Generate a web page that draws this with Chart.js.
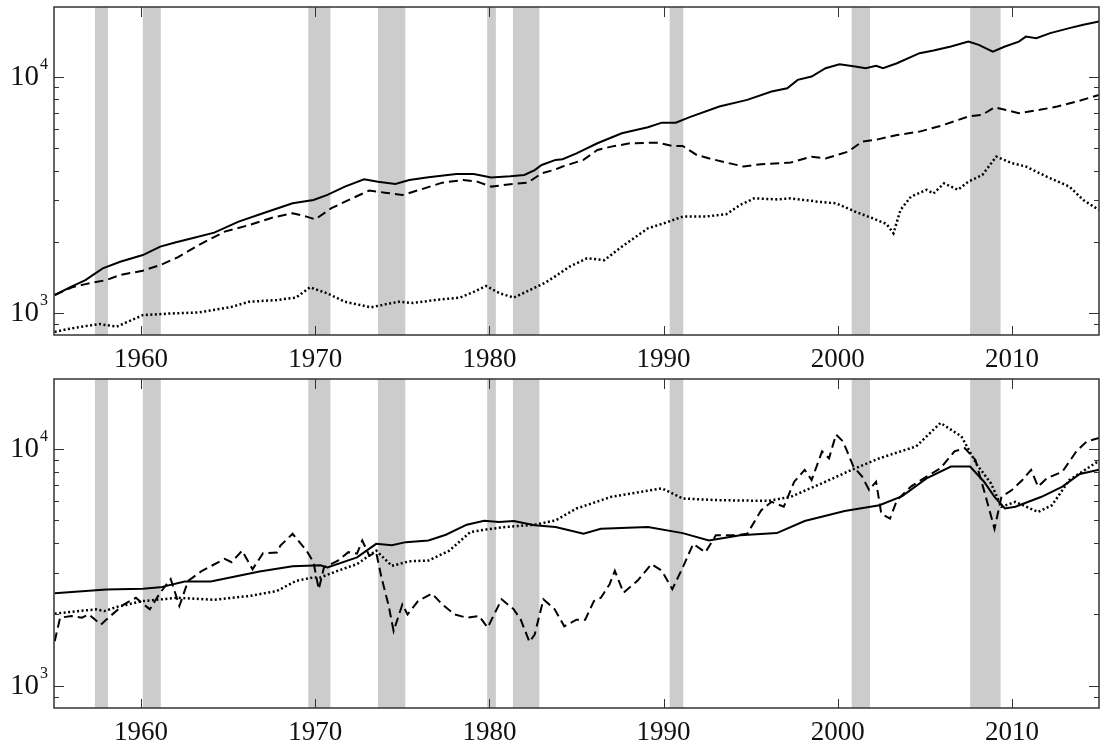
<!DOCTYPE html>
<html>
<head>
<meta charset="utf-8">
<script src="https://cdn.jsdelivr.net/npm/chart.js@4/dist/chart.umd.min.js"></script>
<style>
  html, body { margin: 0; padding: 0; background: #fff; }
  canvas { display: block; }
</style>
</head>
<body>
<canvas id="top" width="1101" height="372"></canvas>
<canvas id="bottom" width="1101" height="373"></canvas>
<script>
// recession periods (start, end) in years
const recessions = [
    [1957.35, 1958.1], [1960.1, 1961.13], [1969.6, 1970.87], [1973.6, 1975.17],
    [1979.87, 1980.37], [1981.35, 1982.87], [1990.35, 1991.13], [2000.8, 2001.85],
    [2007.6, 2009.35]
];
const xTicks = [1960, 1970, 1980, 1990, 2000, 2010];
const yTicks = [900, 1000, 2000, 3000, 4000, 5000, 6000, 7000, 8000, 9000, 10000];
const yLabels = { 1000: '3', 10000: '4' };
const SERIF = '"Liberation Serif", "Times New Roman", "DejaVu Serif", serif';

// top panel
const topSolidYears = [1955.04, 1956, 1956.8, 1957.8, 1958.8, 1960.1, 1961.1, 1961.9, 1962.7, 1964.2,
    1965.6, 1967, 1968.7, 1969.9, 1970.7, 1971.7, 1972.8, 1973.6, 1974.6, 1975.4, 1976.5, 1978.1,
    1979.1, 1980.1, 1981.2, 1982, 1982.6, 1983, 1983.8, 1984.2, 1985, 1986.2, 1987.6, 1989.1,
    1989.9, 1990.7, 1991.5, 1993.2, 1994.8, 1996.2, 1997.1, 1997.7, 1998.5, 1999.3, 2000.1, 2001,
    2001.6, 2002.2, 2002.6, 2003.4, 2004.7, 2005.5, 2006.5, 2007.5, 2008.1, 2008.9, 2009.6, 2010.4,
    2010.8, 2011.4, 2012.2, 2013.3, 2014.1, 2015];
const topSolid = [1189, 1289, 1375, 1541, 1644, 1755, 1905, 1980, 2047, 2184,
    2431, 2638, 2906, 3000, 3155, 3420, 3673, 3590, 3508, 3650, 3745, 3870,
    3870, 3735, 3780, 3830, 4019, 4223, 4436, 4467, 4732, 5220, 5756, 6100,
    6380, 6380, 6730, 7465, 7965, 8637, 8925, 9680, 10000, 10845, 11280, 11020,
    10845, 11100, 10845, 11390, 12560, 12890, 13400, 14060, 13620, 12760, 13400, 14060,
    14760, 14530, 15270, 16030, 16560, 17100];

const topDashedYears = [1955.04, 1956, 1956.8, 1958, 1958.8, 1960.1, 1961.1, 1962.1, 1963.3, 1964.8,
    1966.2, 1967.6, 1968.7, 1969.5, 1970, 1970.9, 1971.9, 1973.1, 1974, 1975, 1976, 1977.3,
    1978.5, 1979.3, 1980.1, 1981.2, 1982.2, 1983, 1983.8, 1984.2, 1985.4, 1986.2, 1987, 1988.1,
    1989.7, 1990.5, 1991.1, 1991.9, 1992.8, 1993.6, 1994.6, 1995.6, 1997.3, 1998.5, 1999.3, 2000.6,
    2001.4, 2002.3, 2003.4, 2004.7, 2005.9, 2007.5, 2008.3, 2009, 2009.6, 2010.4, 2011.6, 2012.6,
    2013.7, 2015];
const topDashed = [1189, 1279, 1322, 1375, 1445, 1507, 1592, 1715, 1934, 2205,
    2350, 2535, 2638, 2553, 2485, 2765, 3000, 3290, 3225, 3150, 3315, 3555,
    3650, 3590, 3420, 3500, 3555, 3890, 4045, 4160, 4436, 4886, 5050, 5220,
    5250, 5080, 5080, 4656, 4467, 4325, 4160, 4256, 4325, 4580, 4500, 4810,
    5303, 5420, 5655, 5845, 6180, 6775, 6890, 7410, 7230, 7000, 7230, 7465,
    7830, 8360];

const topDottedYears = [1955.04, 1956, 1957.6, 1958.6, 1960.1, 1961.7, 1963.3, 1965.2, 1966.2, 1967.8,
    1968.9, 1969.7, 1970.7, 1971.7, 1973.2, 1974, 1974.8, 1975.6, 1976.9, 1978.3, 1979.1, 1979.8,
    1980.6, 1981.4, 1982.4, 1983.2, 1983.75, 1984.6, 1985.6, 1986.6, 1987.6, 1989.1, 1990.1, 1991.1,
    1992.4, 1993.6, 1994.4, 1995.2, 1996.5, 1997.3, 1998.9, 1999.9, 2001, 2002, 2002.8, 2003.2,
    2003.6, 2004.2, 2005.1, 2005.5, 2006.1, 2006.9, 2007.5, 2008.3, 2009.1, 2010, 2010.8, 2012,
    2013.3, 2014.1, 2015];
const topDotted = [830, 859, 896, 873, 977, 993, 1003, 1059, 1113, 1132,
    1160, 1281, 1208, 1113, 1054, 1085, 1113, 1100, 1132, 1159, 1225, 1298,
    1208, 1159, 1256, 1340, 1422, 1567, 1700, 1671, 1905, 2277, 2404, 2553,
    2553, 2612, 2860, 3050, 3020, 3050, 2950, 2906, 2680, 2512, 2377, 2170,
    2723, 3102, 3315, 3200, 3530, 3315, 3590, 3830, 4580, 4297, 4160, 3767,
    3420, 3000, 2723];

// bottom panel
const botSolidYears = [1955.04, 1958, 1960.1, 1961.1, 1962.5, 1964, 1965.4, 1966.8, 1968.7, 1970.3,
    1970.7, 1972.4, 1973.5, 1974.4, 1975.2, 1976.5, 1977.5, 1978.7, 1979.7, 1980.55, 1981.4, 1982.6,
    1983.8, 1985.4, 1986.4, 1989.1, 1991.1, 1992.6, 1994.4, 1996.5, 1998.1, 2000.4, 2002.4, 2003.7,
    2005.1, 2006.5, 2007.6, 2008.4, 2009, 2009.6, 2010.2, 2011.7, 2012.9, 2013.9, 2015];
const botSolid = [2455, 2547, 2563, 2600, 2755, 2755, 2890, 3035, 3190, 3225,
    3155, 3480, 3970, 3920, 4035, 4100, 4335, 4780, 4970, 4905, 4950, 4755,
    4675, 4375, 4595, 4675, 4405, 4100, 4310, 4405, 4955, 5465, 5780, 6310,
    7500, 8410, 8410, 7260, 6270, 5595, 5690, 6270, 6920, 7830, 8150];

const botDashedYears = [1955.04, 1955.35, 1956, 1956.6, 1957, 1957.7, 1958, 1959, 1959.7, 1960.5,
    1961.1, 1961.7, 1962.2, 1962.7, 1963.5, 1964.8, 1965.2, 1965.8, 1966.4, 1967, 1967.8, 1968,
    1968.7, 1969.5, 1969.9, 1970.2, 1970.5, 1971.3, 1971.9, 1972.4, 1972.7, 1973.1, 1973.5, 1973.8,
    1974.2, 1974.5, 1975, 1975.3, 1975.9, 1976.7, 1977.3, 1978, 1978.7, 1979.4, 1979.9, 1980.7,
    1981.4, 1981.8, 1982.3, 1982.6, 1983.1, 1983.75, 1984.3, 1985, 1985.5, 1986, 1986.4, 1986.9,
    1987.2, 1987.7, 1988.5, 1989.3, 1989.9, 1990.5, 1991.1, 1991.7, 1992.4, 1993, 1994, 1994.8,
    1995.6, 1996.2, 1996.9, 1997.5, 1998.1, 1998.5, 1999.1, 1999.5, 1999.9, 2000.3, 2000.9, 2001.4,
    2001.8, 2002.2, 2002.5, 2003, 2003.4, 2004.2, 2005.1, 2005.9, 2006.7, 2007.3, 2007.9, 2008.5,
    2009, 2009.4, 2010, 2010.6, 2011.1, 2011.5, 2012, 2012.9, 2013.7, 2014.3, 2015];
const botDashed = [1540, 1935, 1970, 1935, 2000, 1810, 1900, 2200, 2350, 2100,
    2470, 2820, 2170, 2770, 3055, 3430, 3320, 3715, 3100, 3620, 3650, 3900,
    4375, 3715, 3320, 2555, 3155, 3370, 3660, 3610, 4100, 3540, 3650, 2865,
    2200, 1700, 2200, 2000, 2275, 2450, 2200, 2000, 1935, 1970, 1760, 2315,
    2100, 1900, 1530, 1645, 2315, 2100, 1780, 1900, 1900, 2275, 2350, 2680,
    3055, 2470, 2770, 3260, 3055, 2555, 3155, 3970, 3655, 4310, 4310, 4375,
    5495, 5970, 5690, 7260, 8150, 7380, 9750, 9120, 11480, 10740, 8410, 7630,
    6700, 7260, 5320, 5070, 6065, 6920, 7630, 8280, 9750, 10060, 8980, 6270,
    4595, 6270, 6700, 7380, 8150, 6920, 7500, 8010, 9750, 10740, 11100];

const botDottedYears = [1955.04, 1957.4, 1957.9, 1958.6, 1960.1, 1962.1, 1964.2, 1966.2, 1967.8, 1968.9,
    1969.9, 1970.3, 1971.3, 1972.4, 1973.5, 1974.4, 1975.4, 1976.5, 1977.7, 1978.9, 1979.7, 1980.9,
    1982.6, 1983.8, 1985, 1987, 1989.1, 1989.9, 1991.1, 1993.2, 1996, 1997.3, 1999.3, 2000.8,
    2002.4, 2004.5, 2005.9, 2007.1, 2008, 2008.8, 2009.4, 2010.2, 2011.5, 2012.3, 2013.3, 2015];
const botDotted = [2015, 2100, 2065, 2150, 2275, 2350, 2305, 2390, 2510, 2770,
    2865, 2865, 3055, 3260, 3715, 3205, 3350, 3375, 3715, 4450, 4550, 4675,
    4780, 4985, 5595, 6270, 6650, 6810, 6165, 6065, 6025, 6270, 7260, 8150,
    9120, 10230, 12850, 11280, 8550, 7140, 5690, 5970, 5410, 5780, 7380, 8900];

function pts(xs, ys) {
    return xs.map((x, i) => ({ x, y: ys[i] }));
}

function line(xs, ys, width, dash) {
    return {
        data: pts(xs, ys),
        borderColor: '#000',
        borderWidth: width,
        borderDash: dash,
        pointRadius: 0,
        tension: 0,
        fill: false,
    };
}

const frame = {
    id: 'frame',
    beforeDatasetsDraw(chart) {
        const { ctx, chartArea: a, scales: { x } } = chart;
        ctx.save();
        ctx.fillStyle = '#cccccc';
        recessions.forEach(([s, e]) => {
            const x0 = x.getPixelForValue(s);
            const x1 = x.getPixelForValue(e);
            ctx.fillRect(x0, a.top, x1 - x0, a.bottom - a.top);
        });
        ctx.restore();
    },
    afterDatasetsDraw(chart) {
        const { ctx, chartArea: a, scales: { x, y } } = chart;
        ctx.save();
        ctx.strokeStyle = '#333';
        ctx.lineWidth = 1;
        ctx.beginPath();
        yTicks.forEach(v => {
            const py = Math.round(y.getPixelForValue(v)) + 0.5;
            if (py < a.top || py > a.bottom) return;
            const len = yLabels[v] ? 10 : 5;
            ctx.moveTo(a.left, py); ctx.lineTo(a.left + len, py);
            ctx.moveTo(a.right, py); ctx.lineTo(a.right - len, py);
        });
        xTicks.forEach(v => {
            const px = Math.round(x.getPixelForValue(v)) + 0.5;
            ctx.moveTo(px, a.bottom); ctx.lineTo(px, a.bottom - 9);
            ctx.moveTo(px, a.top); ctx.lineTo(px, a.top + 10);
        });
        ctx.stroke();
        ctx.lineWidth = 1.5;
        ctx.strokeRect(a.left, a.top, a.right - a.left, a.bottom - a.top);

        ctx.fillStyle = '#111';
        Object.keys(yLabels).forEach(k => {
            const py = y.getPixelForValue(+k);
            ctx.font = '29px ' + SERIF;
            ctx.textAlign = 'right';
            ctx.textBaseline = 'middle';
            ctx.fillText('10', a.left - 15, py + 1);
            ctx.font = '16px ' + SERIF;
            ctx.textAlign = 'left';
            ctx.textBaseline = 'alphabetic';
            ctx.fillText(yLabels[k], a.left - 14, py - 8);
        });
        ctx.restore();
    }
};

function makePanel(id, datasets) {
    return new Chart(document.getElementById(id), {
        type: 'line',
        data: { datasets },
        options: {
            responsive: false,
            animation: false,
            layout: { padding: { top: 7, right: 2, left: 0, bottom: 0 } },
            plugins: { legend: { display: false }, tooltip: { enabled: false } },
            scales: {
                x: {
                    type: 'linear',
                    min: 1955,
                    max: 2015,
                    afterBuildTicks: s => { s.ticks = xTicks.map(v => ({ value: v })); },
                    afterFit: s => { s.height = 37; },
                    grid: { display: false, drawTicks: false },
                    border: { display: false },
                    ticks: {
                        padding: 9,
                        color: '#111',
                        font: { family: SERIF, size: 27 },
                        callback: v => String(v),
                    },
                },
                y: {
                    type: 'logarithmic',
                    min: 805,
                    max: 19700,
                    afterBuildTicks: s => { s.ticks = yTicks.map(v => ({ value: v })); },
                    afterFit: s => { s.width = 54; },
                    grid: { display: false, drawTicks: false },
                    border: { display: false },
                    ticks: { display: false },
                },
            },
        },
        plugins: [frame],
    });
}

function build() {
    makePanel('top', [
        line(topSolidYears, topSolid, 2, []),
        line(topDashedYears, topDashed, 2, [9, 5]),
        line(topDottedYears, topDotted, 2.5, [2, 2.5]),
    ]);
    makePanel('bottom', [
        line(botSolidYears, botSolid, 2, []),
        line(botDashedYears, botDashed, 2, [9, 5]),
        line(botDottedYears, botDotted, 2.5, [2, 2.5]),
    ]);
}

Promise.all([
    document.fonts.load('27px "Liberation Serif"'),
    document.fonts.load('16px "Liberation Serif"'),
]).then(build, build);
</script>
</body>
</html>
